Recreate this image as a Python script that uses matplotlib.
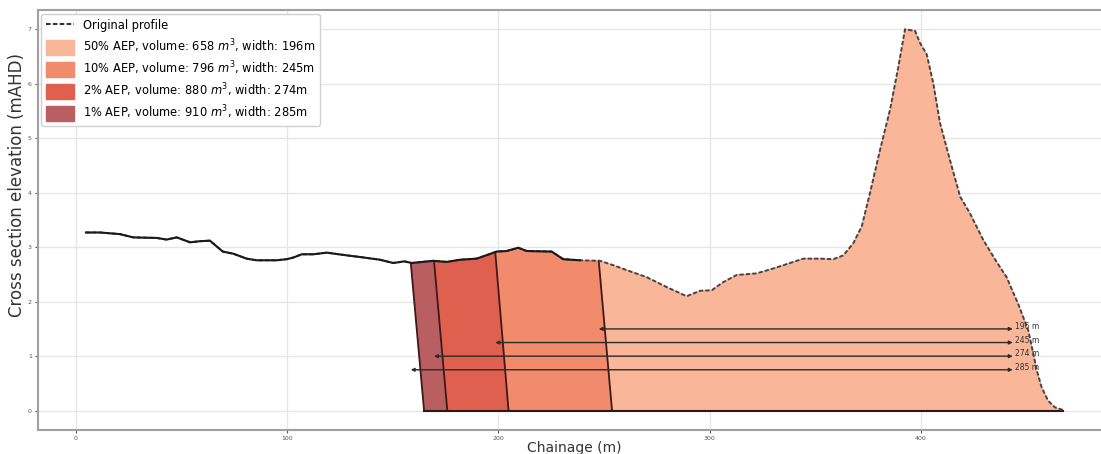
import numpy as np
import matplotlib
matplotlib.use('Agg')
import matplotlib.pyplot as plt
from matplotlib.lines import Line2D
from matplotlib.patches import Patch

# surveyed cross section (chainage m, elevation mAHD)
chainage = [4.7, 11.4, 20.8, 27.1, 38.2, 42.9, 47.7, 54.0, 58.7, 63.4, 69.5, 74.5,
            80.8, 85.5, 95.0, 99.8, 102.9, 106.9, 112.4, 118.7, 128.2, 134.5, 143.9,
            150.2, 155.5, 158.9, 169.2, 175.5, 181.8, 189.7, 199.2, 203.9, 209.4,
            213.4, 225.2, 230.7, 238.6, 248.1, 254.4, 260.7, 270.2, 279.6, 289.1,
            295.5, 301.0, 306.5, 312.8, 322.3, 330.2, 338.1, 344.4, 352.3, 358.6,
            363.3, 368.0, 372.0, 375.9, 380.7, 385.4, 389.4, 392.5, 397.3, 399.6,
            402.8, 405.9, 409.1, 413.8, 418.6, 423.3, 429.6, 435.9, 440.6, 446.2,
            450.9, 453.3, 454.9, 457.2, 460.3, 463.5, 467.5]
elevation = [3.27, 3.27, 3.24, 3.18, 3.17, 3.14, 3.18, 3.09, 3.11, 3.12, 2.92, 2.88,
             2.79, 2.76, 2.76, 2.78, 2.81, 2.87, 2.87, 2.90, 2.85, 2.82, 2.77,
             2.71, 2.74, 2.71, 2.75, 2.73, 2.77, 2.79, 2.92, 2.93, 2.99,
             2.93, 2.92, 2.78, 2.76, 2.75, 2.67, 2.58, 2.45, 2.27, 2.10,
             2.20, 2.21, 2.36, 2.49, 2.52, 2.61, 2.71, 2.79, 2.79, 2.78,
             2.85, 3.07, 3.38, 3.99, 4.79, 5.52, 6.32, 7.00, 6.97, 6.75,
             6.54, 6.01, 5.28, 4.60, 3.93, 3.62, 3.13, 2.73, 2.45, 1.95,
             1.47, 1.04, 0.74, 0.43, 0.18, 0.06, 0.01]

aep = ['50%', '10%', '2%', '1%']
volume = [658, 796, 880, 910]
width = [196, 245, 274, 285]
arrow_y = [1.5, 1.25, 1.0, 0.75]
colors = ['#f9b699', '#f28b6b', '#e0604f', '#b95f62']

x = np.array(chainage)
z = np.array(elevation)
right_edge = 443.5
batter = 6.3  # horizontal offset of the cut face at the toe

fig = plt.figure(figsize=(11.01, 4.54), dpi=100)
ax = fig.add_axes([0.0345, 0.0535, 0.9745, 0.924])

# filled cut areas, widest first so the smaller ones sit on top
for i in [3, 2, 1, 0]:
    xt = right_edge - width[i]
    zt = np.interp(xt, x, z)
    keep = x > xt
    px = np.concatenate([[xt + batter, xt], x[keep], [x[-1]]])
    pz = np.concatenate([[0, zt], z[keep], [0]])
    ax.fill(px, pz, color=colors[i], lw=0, zorder=2 + (3 - i))
    ax.plot([xt + batter, xt], [0, zt], color='#3a1a1a', lw=1.3, zorder=7)

first = right_edge - max(width)
ax.plot([first + batter, x[-1]], [0, 0], color='#2b1a1a', lw=1.5, zorder=7)

# profile: solid where excavated, dashed original ground beyond
cut = right_edge - min(width)
solid = x <= cut + 0.5
ax.plot(x, z, color='#444444', ls='--', dashes=(2.2, 1.1), lw=1.4, zorder=8)
ax.plot(x[solid], z[solid], color='#1a1a1a', lw=1.5, zorder=9)

# width arrows
for i in range(4):
    xt = right_edge - width[i]
    ax.annotate('', xy=(right_edge, arrow_y[i]), xytext=(xt, arrow_y[i]),
                arrowprops=dict(arrowstyle='<|-|>', color='#2b2b2b', lw=1.0,
                                mutation_scale=5, shrinkA=0, shrinkB=0), zorder=10)
    ax.text(right_edge + 1, arrow_y[i] + 0.04, f'{width[i]} m', fontsize=5.5,
            color='#333333', va='center', ha='left', zorder=10)

ax.set_xlim(-18, 490)
ax.set_ylim(-0.35, 7.35)
ax.set_xticks([0, 100, 200, 300, 400])
ax.set_yticks(range(8))
ax.grid(True, color='#e6e6e6', lw=1)
ax.set_axisbelow(True)
ax.tick_params(labelsize=4.5, colors='#555555', length=2.5, width=0.8, pad=2)
for s in ax.spines.values():
    s.set_color('#a0a0a0')
    s.set_linewidth(1.5)
ax.set_xlabel('Chainage (m)', fontsize=10, color='#333333')
ax.set_ylabel('Cross section elevation (mAHD)', fontsize=12, color='#333333')
ax.xaxis.set_label_coords(0.5, -0.026)
ax.yaxis.set_label_coords(-0.011, 0.583)

handles = [Line2D([0], [0], color='#333333', ls='--', dashes=(2.2, 1.1), lw=1.5)]
labels = ['Original profile']
for i in range(4):
    handles.append(Patch(color=colors[i]))
    labels.append(f'{aep[i]} AEP, volume: {volume[i]} $m^3$, width: {width[i]}m')
ax.legend(handles, labels, loc='upper left', fontsize=8.3, handleheight=1.6,
          handlelength=2.4, labelspacing=0.38, borderaxespad=0.3,
          framealpha=1, edgecolor='#d0d0d0')

fig.savefig('out.png', dpi=100)
